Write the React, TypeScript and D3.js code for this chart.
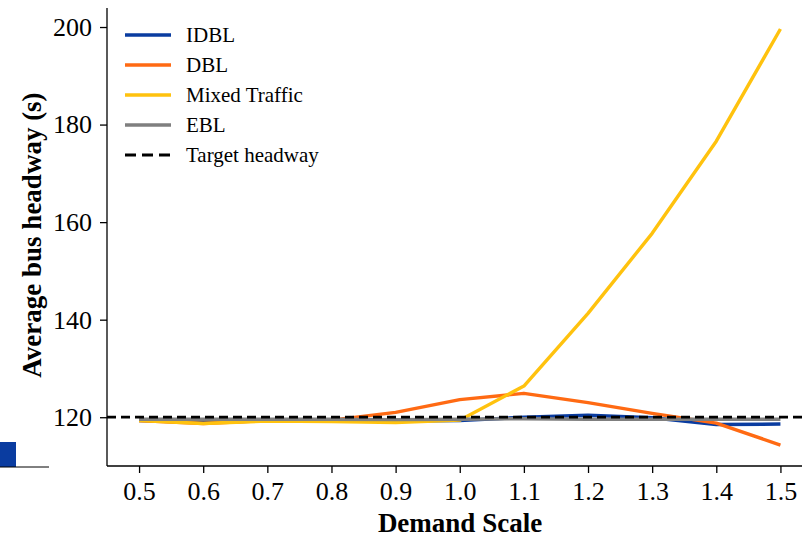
import React, { useRef, useEffect } from 'react';
import * as d3 from 'd3';

// Demand scale values along the x axis
const demandScale = [0.5, 0.6, 0.7, 0.8, 0.9, 1.0, 1.1, 1.2, 1.3, 1.4, 1.5];

// Average bus headway (s) per scenario
const idbl = [119.3, 118.9, 119.3, 119.3, 119.2, 119.3, 120.0, 120.4, 119.9, 118.5, 118.6];
const dbl = [119.3, 118.7, 119.3, 119.4, 121.0, 123.6, 124.9, 123.0, 120.8, 118.8, 114.3];
const mixedTraffic = [119.3, 118.7, 119.2, 119.1, 118.9, 119.4, 126.4, 141.3, 157.7, 176.6, 199.6];
const ebl = [119.6, 119.6, 119.6, 119.6, 119.5, 119.6, 119.7, 119.6, 119.6, 119.6, 119.6];

const targetHeadway = 120;

const seriesNames = ['IDBL', 'DBL', 'Mixed Traffic', 'EBL'];
const seriesColors = ['#0a3ca0', '#ff6a13', '#ffc20e', '#7f7f7f'];

const xTicks = [0.5, 0.6, 0.7, 0.8, 0.9, 1.0, 1.1, 1.2, 1.3, 1.4, 1.5];
const yTicks = [120, 140, 160, 180, 200];

const App = () => {
    const ref = useRef<SVGSVGElement | null>(null);

    useEffect(() => {
        const svg = d3.select(ref.current);
        svg.selectAll('*').remove();

        const font = '"Liberation Serif", "Times New Roman", serif';
        const left = 107, bottom = 466, top = 8;

        const x = d3.scaleLinear().domain([0.45, 1.55]).range([left, 812.5]);
        const y = d3.scaleLinear().domain([110, 203.9]).range([bottom, top]);

        // stray bits of the neighbouring figure at the left edge
        svg.append('rect').attr('x', 0).attr('y', 442).attr('width', 16).attr('height', 25).attr('fill', '#0a3ca0');
        svg.append('line').attr('x1', 0).attr('x2', 49).attr('y1', 467).attr('y2', 467)
            .attr('stroke', '#000').attr('stroke-width', 1);

        // axes
        const xAxis = svg.append('g')
            .attr('transform', `translate(0,${bottom})`)
            .call(d3.axisBottom(x).tickValues(xTicks).tickFormat(d3.format('.1f')).tickSizeOuter(0).tickSize(7).tickPadding(9));
        const yAxis = svg.append('g')
            .attr('transform', `translate(${left},0)`)
            .call(d3.axisLeft(y).tickValues(yTicks).tickSizeOuter(0).tickSize(7).tickPadding(8));

        [xAxis, yAxis].forEach(g => {
            g.select('.domain').attr('stroke', '#000').attr('stroke-width', 1.3);
            g.selectAll('.tick line').attr('stroke', '#000').attr('stroke-width', 1.3);
            g.selectAll('.tick text').attr('fill', '#000')
                .style('font-family', font).style('font-size', '26px');
        });
        xAxis.select('.domain').attr('d', `M${left},0H802`);
        yAxis.select('.domain').attr('d', `M0,${top}V${bottom}`);

        const line = d3.line<number>()
            .x((_, i) => x(demandScale[i]))
            .y(d => y(d));

        const allSeries = [idbl, dbl, mixedTraffic, ebl];
        allSeries.forEach((vals, i) => {
            svg.append('path')
                .datum(vals)
                .attr('fill', 'none')
                .attr('stroke', seriesColors[i])
                .attr('stroke-width', 3.4)
                .attr('stroke-linejoin', 'round')
                .attr('d', line);
        });

        // target headway
        svg.append('line')
            .attr('x1', left).attr('x2', 802)
            .attr('y1', y(targetHeadway)).attr('y2', y(targetHeadway))
            .attr('stroke', '#000').attr('stroke-width', 2.8)
            .attr('stroke-dasharray', '9,5');

        // axis titles
        svg.append('text')
            .attr('x', 460).attr('y', 532)
            .attr('text-anchor', 'middle')
            .style('font-family', font).style('font-size', '27px').style('font-weight', 'bold')
            .text('Demand Scale');
        svg.append('text')
            .attr('transform', 'translate(41,235) rotate(-90)')
            .attr('text-anchor', 'middle')
            .style('font-family', font).style('font-size', '27px').style('font-weight', 'bold')
            .text('Average bus headway (s)');

        // legend
        const legendItems = [...seriesNames.map((n, i) => ({ name: n, color: seriesColors[i], dash: null as string | null })),
            { name: 'Target headway', color: '#000', dash: '11,6' }];
        legendItems.forEach((d, i) => {
            const ly = 35 + i * 30;
            svg.append('line')
                .attr('x1', 125).attr('x2', 171).attr('y1', ly).attr('y2', ly)
                .attr('stroke', d.color).attr('stroke-width', d.dash ? 2.8 : 3.4)
                .attr('stroke-dasharray', d.dash);
            svg.append('text')
                .attr('x', 186).attr('y', ly + 7)
                .style('font-family', font).style('font-size', '21px')
                .text(d.name);
        });
    }, []);

    return (
        <svg ref={ref} width={802} height={537} style={{ position: 'absolute', left: 0, top: 0, background: '#fff' }} />
    );
};

export default App;
